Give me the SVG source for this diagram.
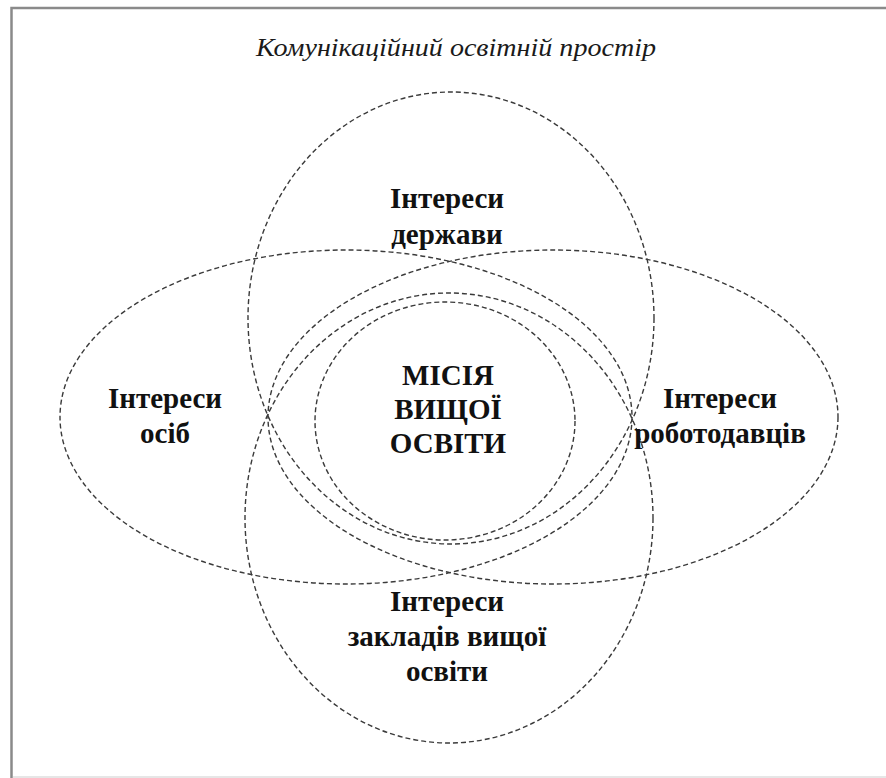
<svg xmlns="http://www.w3.org/2000/svg" width="886" height="778" viewBox="0 0 886 778">
  <style>
    .frame-dark { stroke: #8a8a8a; stroke-width: 2.5; fill: none; }
    .frame-light { stroke: #e6e6e6; stroke-width: 2; fill: none; }
    .zone { fill: none; stroke: #3a3a3a; stroke-width: 1.4; stroke-dasharray: 5 3; }
    text { font-family: "Liberation Serif", Tinos, "Times New Roman", "DejaVu Serif", serif; fill: #111; text-anchor: middle; }
    .title { font-style: italic; font-size: 26px; fill: #1a1a1a; }
    .label { font-weight: bold; font-size: 29px; }
    .core { font-weight: bold; font-size: 29px; }
  </style>

  <rect width="886" height="778" fill="#ffffff"/>

  <!-- outer frame -->
  <g id="frame">
    <path class="frame-dark" d="M11.5 778 V8 H886"/>
    <path class="frame-light" d="M13 777 H886"/>
  </g>

  <text class="title" x="456" y="56" textLength="400" lengthAdjust="spacingAndGlyphs">Комунікаційний освітній простір</text>

  <!-- overlapping interest zones -->
  <g id="connectors">
    <ellipse id="zone-state" class="zone" cx="451" cy="318" rx="203" ry="226"/>
    <ellipse id="zone-persons" class="zone" cx="346" cy="417" rx="286" ry="167"/>
    <ellipse id="zone-employers" class="zone" cx="553" cy="417" rx="285" ry="167"/>
    <ellipse id="zone-institutions" class="zone" cx="449" cy="518" rx="204" ry="225"/>
    <ellipse id="zone-mission" class="zone" cx="445" cy="421" rx="130" ry="119"/>
  </g>

  <g id="node-state">
    <text class="label" x="447" y="208">Інтереси</text>
    <text class="label" x="447" y="244">держави</text>
  </g>

  <g id="node-persons">
    <text class="label" x="165" y="408">Інтереси</text>
    <text class="label" x="165" y="443">осіб</text>
  </g>

  <g id="node-employers">
    <text class="label" x="720" y="408">Інтереси</text>
    <text class="label" x="720" y="443">роботодавців</text>
  </g>

  <g id="node-institutions">
    <text class="label" x="447" y="611">Інтереси</text>
    <text class="label" x="447" y="646">закладів вищої</text>
    <text class="label" x="447" y="681">освіти</text>
  </g>

  <g id="node-mission">
    <text class="core" x="448" y="385">МІСІЯ</text>
    <text class="core" x="448" y="419">ВИЩОЇ</text>
    <text class="core" x="448" y="453">ОСВІТИ</text>
  </g>
</svg>
